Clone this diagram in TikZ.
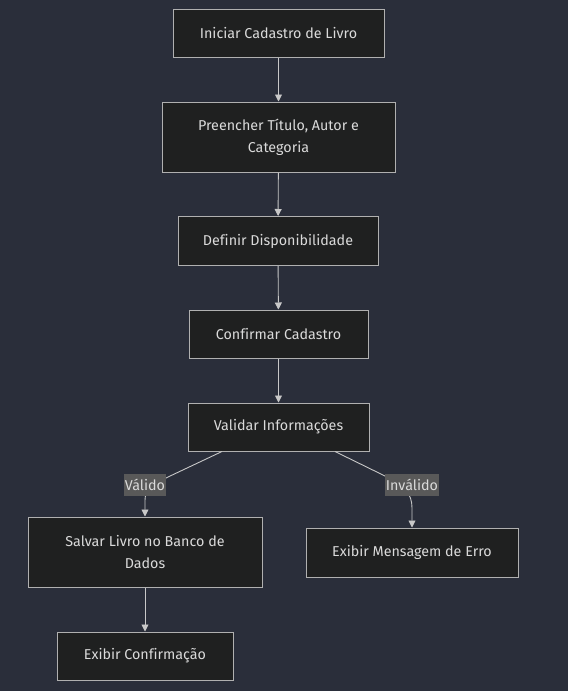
\documentclass[tikz,border=0pt]{standalone}
\usepackage{fontspec}
\setmainfont{Fira Sans}[Ligatures=NoCommon]
\usetikzlibrary{arrows.meta,calc}
\definecolor{bgc}{HTML}{2A2E3A}
\definecolor{nodefill}{HTML}{1F2020}
\definecolor{nodeline}{HTML}{B0B0B0}
\definecolor{txt}{HTML}{DADADA}
\definecolor{edgec}{HTML}{C8C8C8}
\definecolor{lblfill}{HTML}{595959}
\begin{document}
\begin{tikzpicture}[x=1pt,y=-1pt,
  box/.style={draw=nodeline,fill=nodefill,line width=1pt,text=txt,font=\fontsize{14.3}{22}\selectfont,align=center,inner sep=0pt},
  lbl/.style={fill=lblfill,text=txt,font=\fontsize{14.3}{16}\selectfont,inner sep=1pt,minimum height=22pt},
  edge/.style={draw=edgec,line width=0.9pt,-{Triangle[length=7pt,width=7pt]}}]
\fill[bgc] (0,0) rectangle (568,691);
\useasboundingbox (0,0) rectangle (568,691);
\node[box,minimum width=211pt,minimum height=48pt] (n1) at (278.5,33) {Iniciar Cadastro de Livro};
\node[box,minimum width=233pt,minimum height=70pt] (n2) at (278.5,137) {Preencher Título, Autor e\\Categoria};
\node[box,minimum width=200pt,minimum height=49pt] (n3) at (278,241) {Definir Disponibilidade};
\node[box,minimum width=179pt,minimum height=48pt] (n4) at (278.5,334) {Confirmar Cadastro};
\node[box,minimum width=181pt,minimum height=48pt] (n5) at (278.5,427) {Validar Informações};
\node[box,minimum width=234pt,minimum height=70pt] (n6) at (145,552) {Salvar Livro no Banco de\\Dados};
\node[box,minimum width=212pt,minimum height=49pt] (n7) at (412,552.5) {Exibir Mensagem de Erro};
\node[box,minimum width=176pt,minimum height=48pt] (n8) at (145,656) {Exibir Confirmação};
\draw[edge] (n1) -- (n2);
\draw[edge] (n2) -- (n3);
\draw[edge] (n3) -- (n4);
\draw[edge] (n4) -- (n5);
\draw[edge] (n6) -- (n8);
\coordinate (va) at (145,485);
\coordinate (ia) at (412,485);
\draw[edge] ($(n5.south)+(-56.5,0)$) -- (168,477) .. controls (152,485) and (145,490) .. (145,500) -- (n6.north);
\draw[edge] ($(n5.south)+(56.5,0)$) -- (385,476) .. controls (405,486) and (412,494) .. (412,508) -- (n7.north);
\node[lbl] (lv) at (va) {Válido};
\node[lbl] (li) at (ia) {Inválido};
\end{tikzpicture}
\end{document}
